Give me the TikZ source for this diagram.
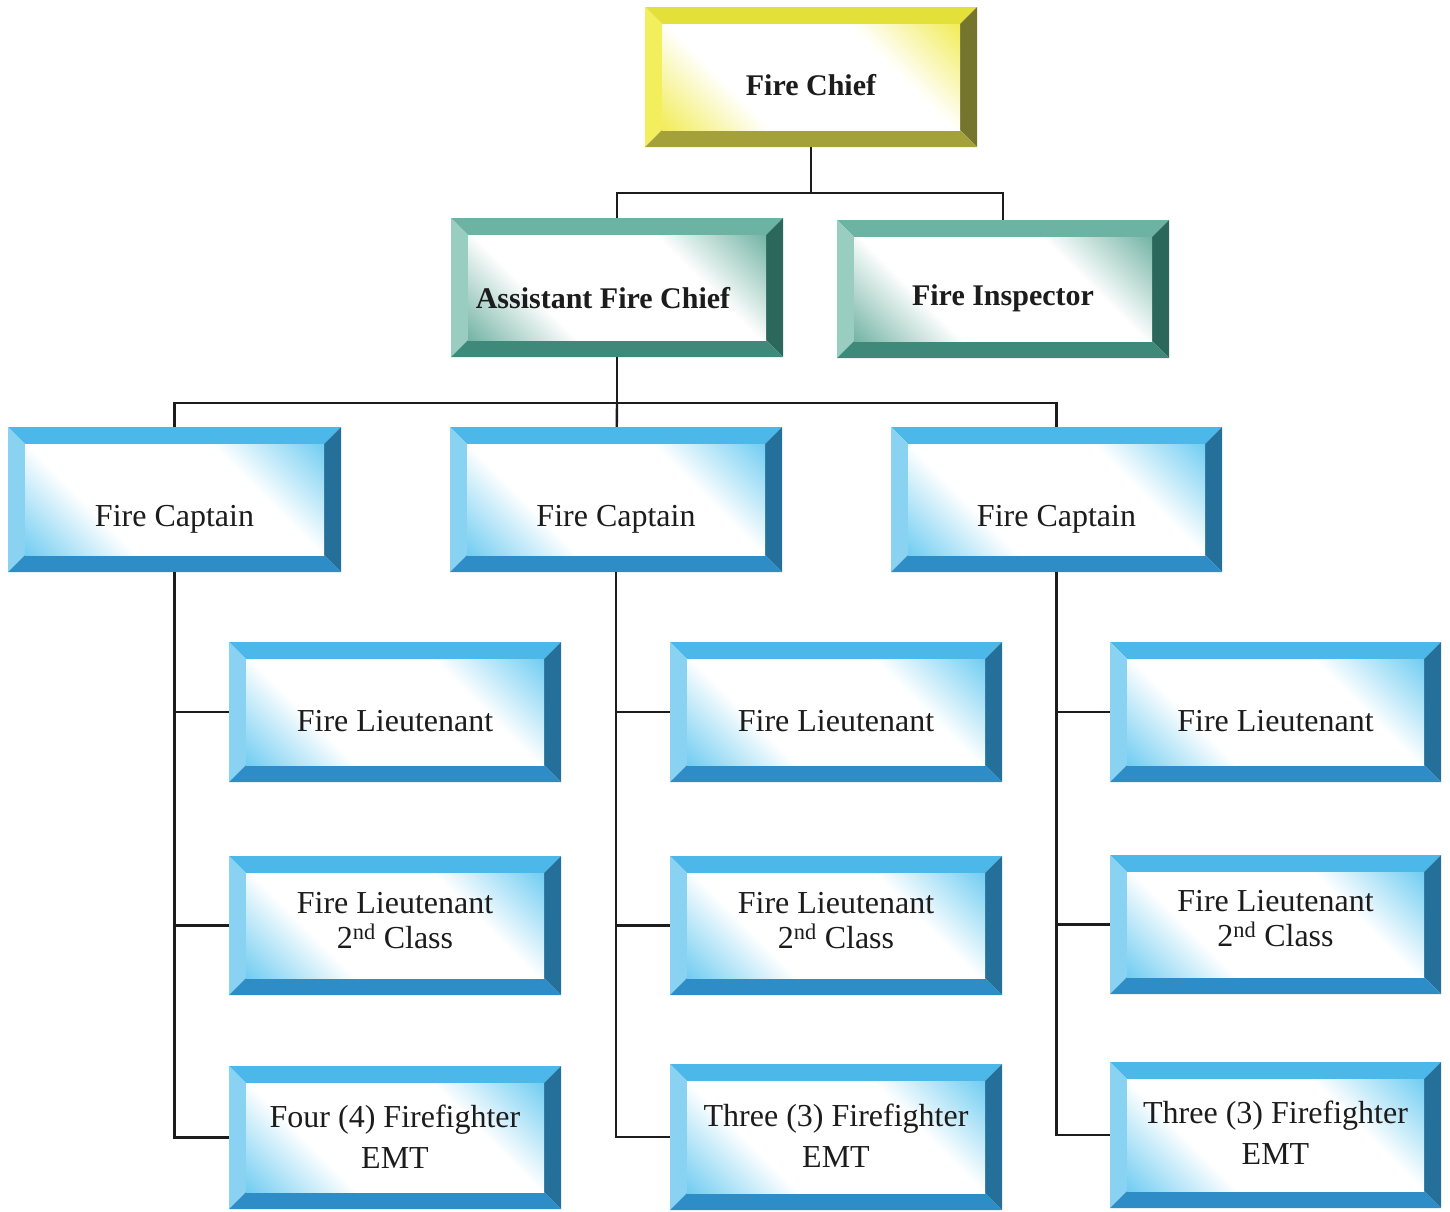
\documentclass[tikz,border=0pt]{standalone}
\usepackage{fontspec}
\setmainfont{Liberation Serif}

% bevel palettes: top, left, right, bottom faces and the tint of the front face
\definecolor{bluetop}{HTML}{4CB8EA}
\definecolor{blueleft}{HTML}{8AD2F1}
\definecolor{blueright}{HTML}{24709A}
\definecolor{bluebot}{HTML}{2E8CC6}
\definecolor{blueface}{HTML}{5EC6F0}
\definecolor{tealtop}{HTML}{6DB3A3}
\definecolor{tealleft}{HTML}{98CDBF}
\definecolor{tealright}{HTML}{2C675C}
\definecolor{tealbot}{HTML}{3E897A}
\definecolor{tealface}{HTML}{62AA99}
\definecolor{yeltop}{HTML}{E4E03A}
\definecolor{yelleft}{HTML}{F2EE5C}
\definecolor{yelright}{HTML}{75752E}
\definecolor{yelbot}{HTML}{A4A03A}
\definecolor{yelface}{HTML}{F0EA40}
\definecolor{ink}{HTML}{1C1C1C}

\pgfdeclarehorizontalshading{faceblue}{100bp}{color(0bp)=(blueface); color(12bp)=(blueface); color(34bp)=(white); color(66bp)=(white); color(88bp)=(blueface); color(100bp)=(blueface)}
\pgfdeclarehorizontalshading{faceteal}{100bp}{color(0bp)=(tealface); color(12bp)=(tealface); color(34bp)=(white); color(66bp)=(white); color(88bp)=(tealface); color(100bp)=(tealface)}
\pgfdeclarehorizontalshading{faceyel}{100bp}{color(0bp)=(yelface); color(12bp)=(yelface); color(34bp)=(white); color(66bp)=(white); color(88bp)=(yelface); color(100bp)=(yelface)}

\newcommand\bevw{17pt}
% four bevel faces and the shaded front of a raised box
\newcommand\bevelfaces[1]{%
  \fill[#1top] (path picture bounding box.north west) -- (path picture bounding box.north east)
    -- ([shift={(-\bevw,-\bevw)}]path picture bounding box.north east)
    -- ([shift={(\bevw,-\bevw)}]path picture bounding box.north west) -- cycle;
  \fill[#1left] (path picture bounding box.north west)
    -- ([shift={(\bevw,-\bevw)}]path picture bounding box.north west)
    -- ([shift={(\bevw,\bevw)}]path picture bounding box.south west)
    -- (path picture bounding box.south west) -- cycle;
  \fill[#1right] (path picture bounding box.north east) -- (path picture bounding box.south east)
    -- ([shift={(-\bevw,\bevw)}]path picture bounding box.south east)
    -- ([shift={(-\bevw,-\bevw)}]path picture bounding box.north east) -- cycle;
  \fill[#1bot] (path picture bounding box.south west)
    -- ([shift={(\bevw,\bevw)}]path picture bounding box.south west)
    -- ([shift={(-\bevw,\bevw)}]path picture bounding box.south east)
    -- (path picture bounding box.south east) -- cycle;
  \shade[shading=face#1, shading angle=45]
    ([shift={(\bevw,-\bevw)}]path picture bounding box.north west) rectangle
    ([shift={(-\bevw,\bevw)}]path picture bounding box.south east);
}

\begin{document}
\begin{tikzpicture}[x=1pt, y=-1pt,
  bevelbox/.style={rectangle, inner sep=0pt, minimum width=332pt, minimum height=140pt,
    path picture={\bevelfaces{#1}}},
  lbl/.style={font=\fontsize{32}{40}\selectfont, text=ink, align=center, yshift=-9pt},
  lblcap/.style={lbl, yshift=-11pt},
  lbltwo/.style={lbl, font=\fontsize{32}{35}\selectfont, yshift=14pt},
  lblthree/.style={lbl, font=\fontsize{32}{41}\selectfont, yshift=10pt},
  lblhead/.style={font=\fontsize{30}{36}\selectfont\bfseries, text=ink, align=center, yshift=-8pt},
  wire/.style={draw=ink, line width=2.4pt}]

\useasboundingbox (0,0) rectangle (1450,1211);

% connector junctions
\coordinate (j1) at (811,193);
\coordinate (j2) at (617,403);

% top levels
\node[bevelbox=yel, label={[lblhead]center:Fire Chief}] (chief) at (811,77) {};
\node[bevelbox=teal, minimum height=139pt, label={[lblhead, xshift=-14pt, yshift=-3pt]center:Assistant Fire Chief}] (asst) at (617,287.5) {};
\node[bevelbox=teal, minimum height=138pt, label={[lblhead, yshift=-1pt]center:Fire Inspector}] (insp) at (1003,289) {};

% captains
\node[bevelbox=blue, minimum width=333pt, minimum height=145pt, label={[lblcap]center:Fire Captain}] (capL) at (174.5,499.5) {};
\node[bevelbox=blue, minimum height=145pt, label={[lblcap]center:Fire Captain}] (capM) at (616,499.5) {};
\node[bevelbox=blue, minimum width=331pt, minimum height=145pt, label={[lblcap]center:Fire Captain}] (capR) at (1056.5,499.5) {};

% lieutenants
\node[bevelbox=blue, label={[lbl]center:Fire Lieutenant}] (ltL) at (395,712) {};
\node[bevelbox=blue, label={[lbl]center:Fire Lieutenant}] (ltM) at (836,712) {};
\node[bevelbox=blue, minimum width=331pt, label={[lbl]center:Fire Lieutenant}] (ltR) at (1275.5,712) {};

\node[bevelbox=blue, minimum height=139pt, label={[lbltwo]center:{Fire Lieutenant\\2\textsuperscript{nd} Class}}] (lsL) at (395,925.5) {};
\node[bevelbox=blue, minimum height=139pt, label={[lbltwo]center:{Fire Lieutenant\\2\textsuperscript{nd} Class}}] (lsM) at (836,925.5) {};
\node[bevelbox=blue, minimum width=331pt, minimum height=139pt, label={[lbltwo, yshift=1pt]center:{Fire Lieutenant\\2\textsuperscript{nd} Class}}] (lsR) at (1275.5,924.5) {};

% firefighters
\node[bevelbox=blue, minimum height=143pt, label={[lblthree]center:{Four (4) Firefighter\\EMT}}] (ffL) at (395,1137.5) {};
\node[bevelbox=blue, minimum height=146pt, label={[lblthree]center:{Three (3) Firefighter\\EMT}}] (ffM) at (836,1137) {};
\node[bevelbox=blue, minimum width=331pt, minimum height=146pt, label={[lblthree, yshift=1pt]center:{Three (3) Firefighter\\EMT}}] (ffR) at (1275.5,1135) {};

\draw[wire] (chief) -- (j1);
\draw[wire] (j1) -| (asst);
\draw[wire] (j1) -| (insp);
\draw[wire] (asst) -- (j2);
\draw[wire] (j2) -| (capL);
\draw[wire] (j2) -- (capM);
\draw[wire] (j2) -| (capR);

\draw[wire] (capL.south) |- (ffL.west);
\draw[wire] (capL.south |- ltL.west) -- (ltL.west);
\draw[wire] (capL.south |- lsL.west) -- (lsL.west);
\draw[wire] (capM.south) |- (ffM.west);
\draw[wire] (capM.south |- ltM.west) -- (ltM.west);
\draw[wire] (capM.south |- lsM.west) -- (lsM.west);
\draw[wire] (capR.south) |- (ffR.west);
\draw[wire] (capR.south |- ltR.west) -- (ltR.west);
\draw[wire] (capR.south |- lsR.west) -- (lsR.west);
\end{tikzpicture}
\end{document}
